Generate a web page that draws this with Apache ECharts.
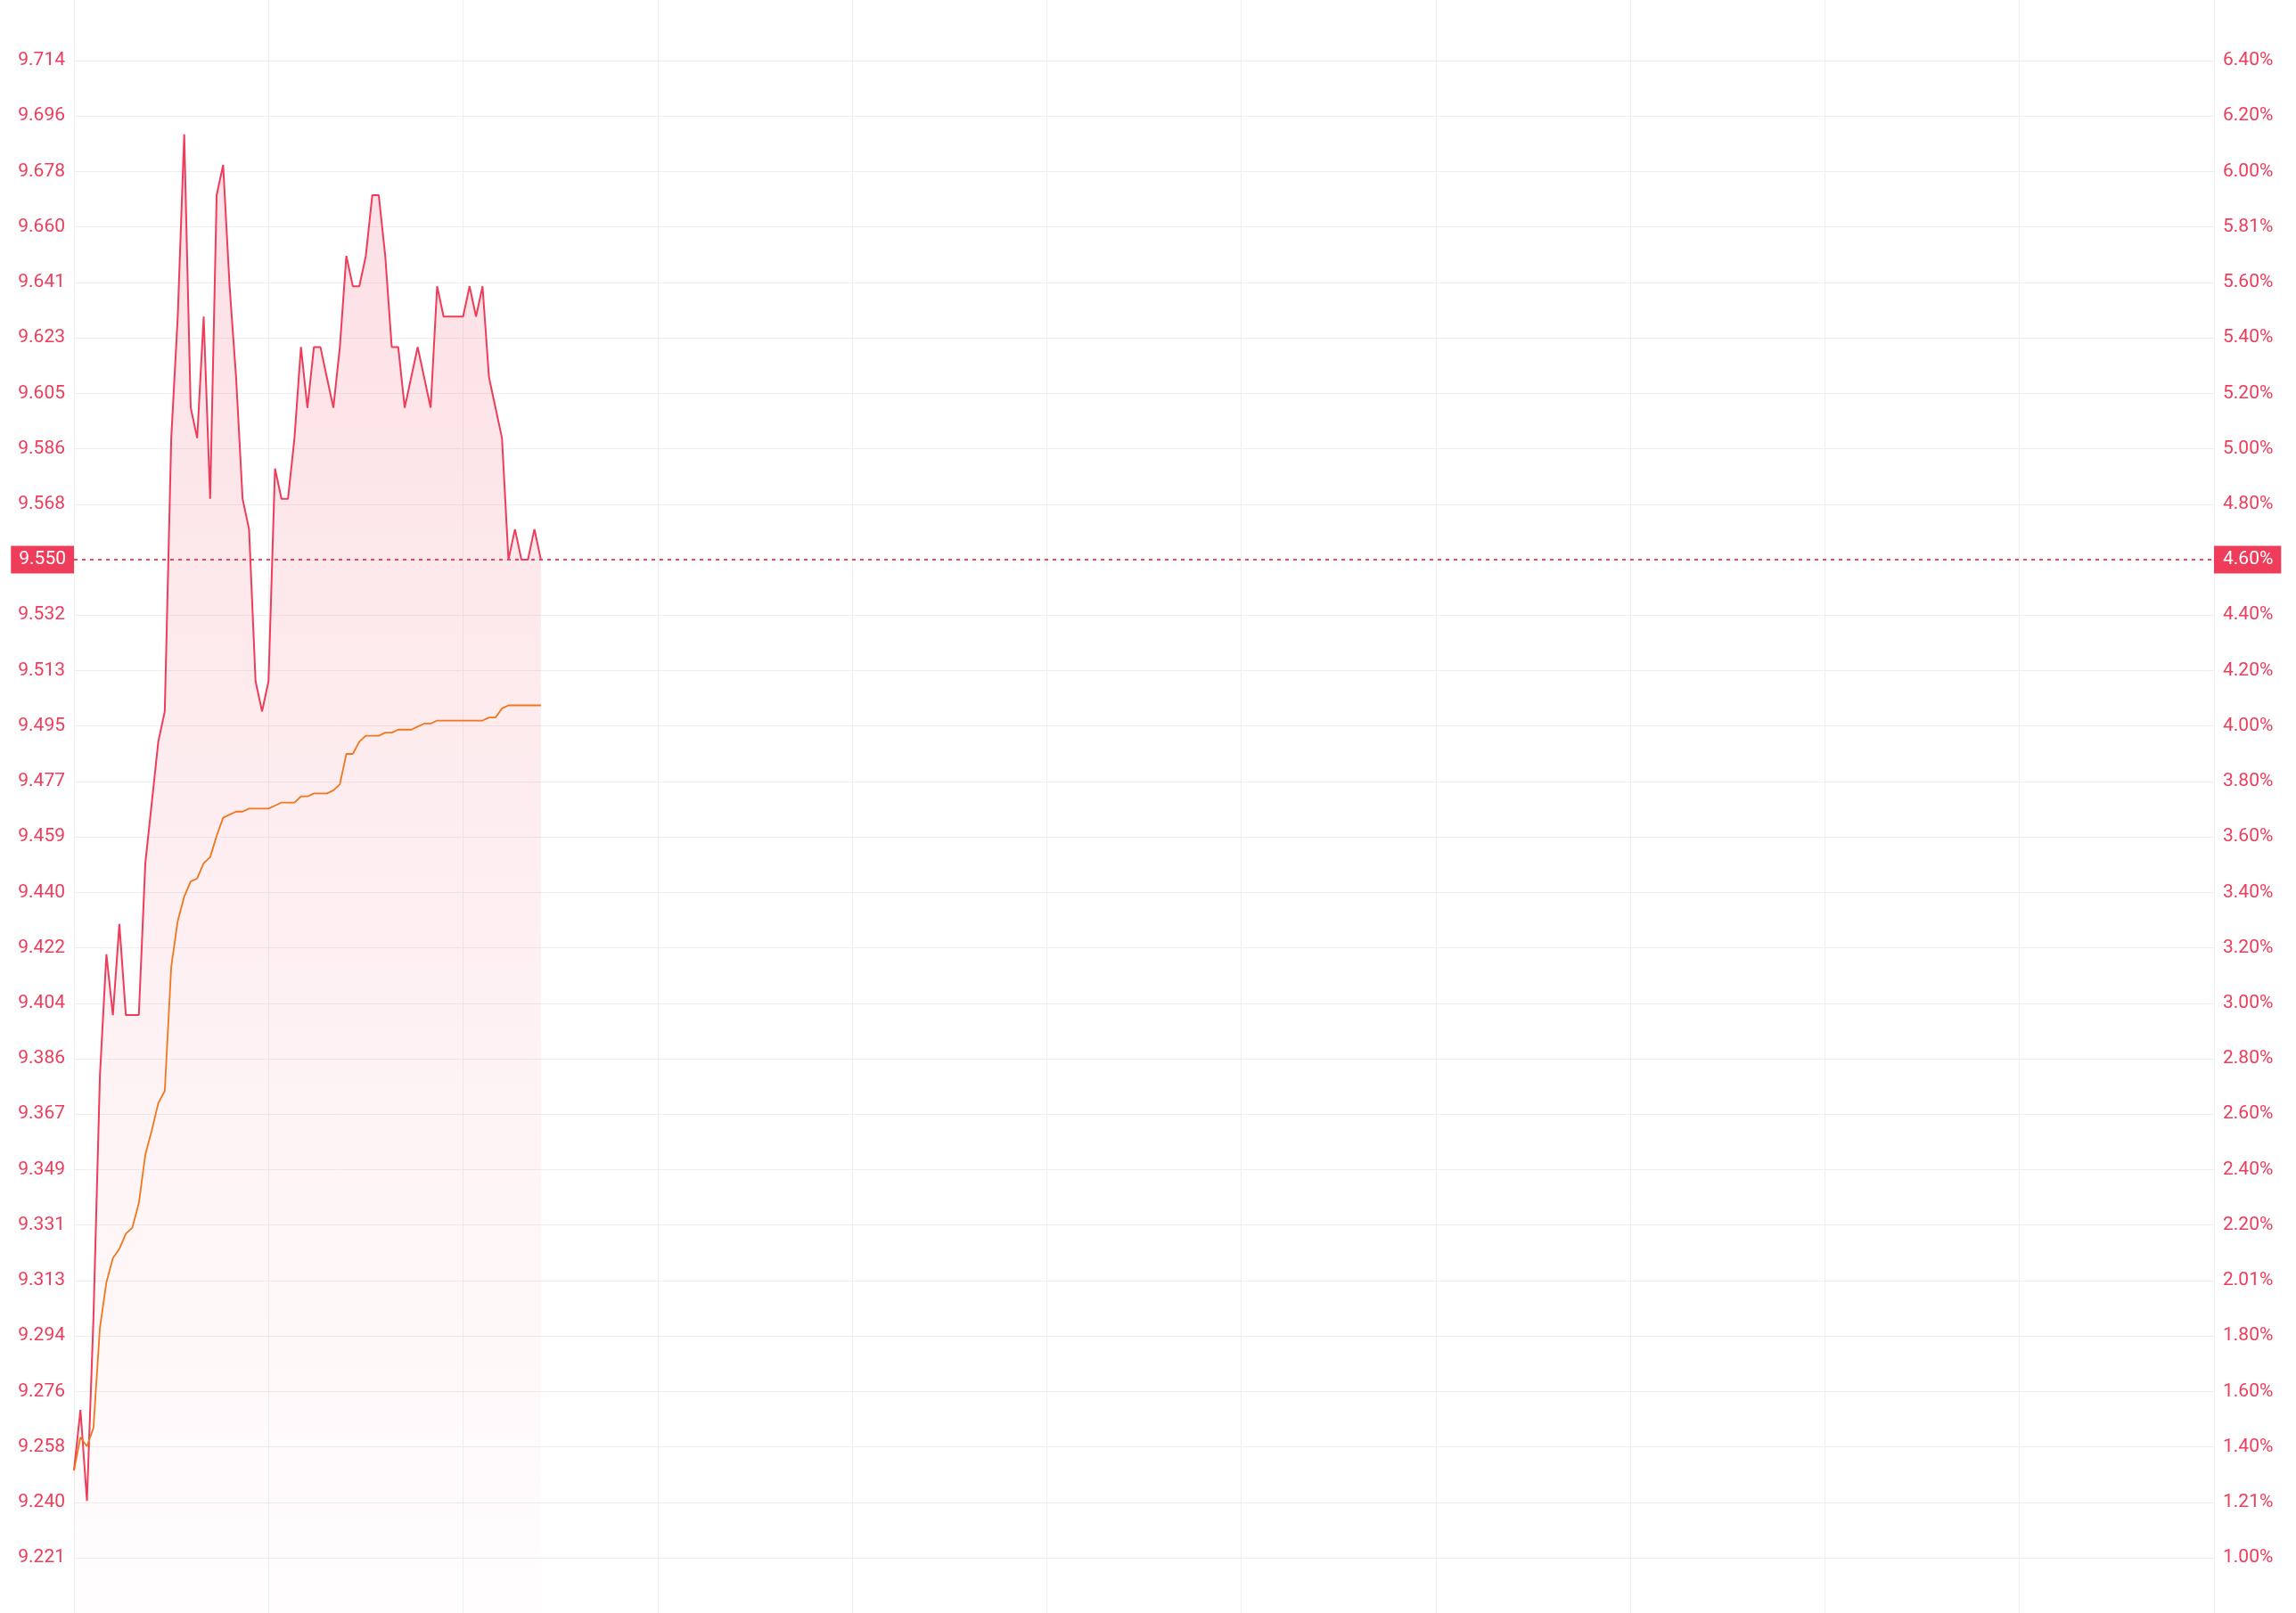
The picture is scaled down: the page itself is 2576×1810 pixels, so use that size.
<!DOCTYPE html>
<html><head><meta charset="utf-8">
<script src="https://cdn.jsdelivr.net/npm/echarts@6/dist/echarts.min.js"></script>
<style>html,body{margin:0;padding:0;background:#fff}#c{width:2576px;height:1810px}</style>
</head><body><div id="c"></div>
<script>
// ---------------- data ----------------
const priceData = [
  9.25, 9.27, 9.24, 9.30, 9.38, 9.42, 9.40, 9.43, 9.40, 9.40,
  9.40, 9.45, 9.47, 9.49, 9.50, 9.59, 9.63, 9.69, 9.60, 9.59,
  9.63, 9.57, 9.67, 9.68, 9.64, 9.61, 9.57, 9.56, 9.51, 9.50,
  9.51, 9.58, 9.57, 9.57, 9.59, 9.62, 9.60, 9.62, 9.62, 9.61,
  9.60, 9.62, 9.65, 9.64, 9.64, 9.65, 9.67, 9.67, 9.65, 9.62,
  9.62, 9.60, 9.61, 9.62, 9.61, 9.60, 9.64, 9.63, 9.63, 9.63,
  9.63, 9.64, 9.63, 9.64, 9.61, 9.60, 9.59, 9.55, 9.56, 9.55,
  9.55, 9.56, 9.55
];
const avgData = [
  9.250, 9.261, 9.258, 9.264, 9.297, 9.312, 9.320, 9.323, 9.328, 9.330,
  9.338, 9.354, 9.362, 9.371, 9.375, 9.416, 9.431, 9.439, 9.444, 9.445,
  9.450, 9.452, 9.459, 9.465, 9.466, 9.467, 9.467, 9.468, 9.468, 9.468,
  9.468, 9.469, 9.470, 9.470, 9.470, 9.472, 9.472, 9.473, 9.473, 9.473,
  9.474, 9.476, 9.486, 9.486, 9.490, 9.492, 9.492, 9.492, 9.493, 9.493,
  9.494, 9.494, 9.494, 9.495, 9.496, 9.496, 9.497, 9.497, 9.497, 9.497,
  9.497, 9.497, 9.497, 9.497, 9.498, 9.498, 9.501, 9.502, 9.502, 9.502,
  9.502, 9.502, 9.502
];
const leftTickLabels = [
  '9.221','9.240','9.258','9.276','9.294','9.313','9.331','9.349','9.367','9.386',
  '9.404','9.422','9.440','9.459','9.477','9.495','9.513','9.532','9.550','9.568',
  '9.586','9.605','9.623','9.641','9.660','9.678','9.696','9.714'
];
const rightTickLabels = [
  '1.00%','1.21%','1.40%','1.60%','1.80%','2.01%','2.20%','2.40%','2.60%','2.80%',
  '3.00%','3.20%','3.40%','3.60%','3.80%','4.00%','4.20%','4.40%','4.60%','4.80%',
  '5.00%','5.20%','5.40%','5.60%','5.81%','6.00%','6.20%','6.40%'
];
const lastPrice = 9.55;
const lastPriceLabel = '9.550';
const lastPctLabel = '4.60%';
const TICK = 0.01826;      // price step between gridlines
const TICK_MIN_K = 505;    // first gridline = 505 * TICK

// trading minutes (HK session) as categories
const categories = [];
function addRange(h0, m0, h1, m1) {
  let t = h0 * 60 + m0, e = h1 * 60 + m1;
  for (; t <= e; t++) {
    const h = Math.floor(t / 60), m = t % 60;
    categories.push((h < 10 ? '0' : '') + h + ':' + (m < 10 ? '0' : '') + m);
  }
}
addRange(9, 30, 12, 0);
addRange(13, 1, 16, 0);

// ---------------- layout / style ----------------
const W = 2576, H = 1810;
const GL = 83, GR = 92, TT = 68, TB = 62;
const RED = '#ee3c5a', ORANGE = '#f2761a', GRIDC = '#efefef';
const FONT = 'Roboto';

const nTicks = leftTickLabels.length;
const yMinTick = TICK_MIN_K * TICK;
const yMaxTick = (TICK_MIN_K + nTicks - 1) * TICK;
const pxPer = (H - TT - TB) / (nTicks - 1);
const bgMin = yMinTick - TB / pxPer * TICK;
const bgMax = yMaxTick + TT / pxPer * TICK;

function idxOf(v) { return Math.round((v - yMinTick) / TICK); }

const chart = echarts.init(document.getElementById('c'), null, {renderer: 'canvas', width: W, height: H});
chart.setOption({
  animation: false,
  backgroundColor: '#ffffff',
  grid: [
    {left: GL, right: GR, top: 0, bottom: 0},
    {left: GL, right: GR, top: TT, bottom: TB}
  ],
  xAxis: [
    {gridIndex: 0, type: 'category', data: categories, boundaryGap: false,
     axisLine: {show: false}, axisTick: {show: false}, axisLabel: {show: false},
     splitLine: {show: true, interval: 29, lineStyle: {color: GRIDC, width: 1}}},
    {gridIndex: 1, type: 'category', data: categories, boundaryGap: false, show: false}
  ],
  yAxis: [
    {gridIndex: 0, type: 'value', min: bgMin, max: bgMax, show: false, splitLine: {show: false}},
    {gridIndex: 1, type: 'value', position: 'left', min: yMinTick, max: yMaxTick, interval: TICK,
     axisLine: {show: false}, axisTick: {show: false},
     axisLabel: {color: RED, fontSize: 21, fontFamily: FONT, margin: 10,
       formatter: v => { const i = idxOf(v); return leftTickLabels[i] || ''; }},
     splitLine: {show: true, lineStyle: {color: GRIDC, width: 1}}},
    {gridIndex: 1, type: 'value', position: 'right', min: yMinTick, max: yMaxTick, interval: TICK,
     axisLine: {show: false}, axisTick: {show: false},
     axisLabel: {color: RED, fontSize: 21, fontFamily: FONT, margin: 10,
       formatter: v => { const i = idxOf(v); return rightTickLabels[i] || ''; }},
     splitLine: {show: false}}
  ],
  series: [
    {
      name: 'price', type: 'line', xAxisIndex: 0, yAxisIndex: 0,
      data: priceData, symbol: 'none', silent: true,
      lineStyle: {color: RED, width: 2},
      areaStyle: {origin: 'start', color: new echarts.graphic.LinearGradient(0, 0, 0, 1, [
        {offset: 0, color: 'rgba(238,60,90,0.23)'},
        {offset: 0.5, color: 'rgba(238,60,90,0.12)'},
        {offset: 1, color: 'rgba(238,60,90,0.01)'}
      ])},
      z: 3,
      markLine: {
        silent: true, symbol: ['none', 'none'], animation: false,
        lineStyle: {color: RED, type: [4, 5], width: 1.5},
        data: [
          {yAxis: lastPrice, label: {show: true, position: 'start', distance: 0, formatter: lastPriceLabel,
            color: '#fff', fontSize: 21, fontFamily: FONT, backgroundColor: RED, padding: [5, 9, 5, 9]}},
          {yAxis: lastPrice, label: {show: true, position: 'end', distance: 0, formatter: lastPctLabel,
            color: '#fff', fontSize: 21, fontFamily: FONT, backgroundColor: RED, padding: [5, 9, 5, 10]}}
        ]
      }
    },
    {
      name: 'avg', type: 'line', xAxisIndex: 0, yAxisIndex: 0,
      data: avgData, symbol: 'none', silent: true,
      lineStyle: {color: ORANGE, width: 1.8}, z: 4
    }
  ]
});
</script></body></html>
